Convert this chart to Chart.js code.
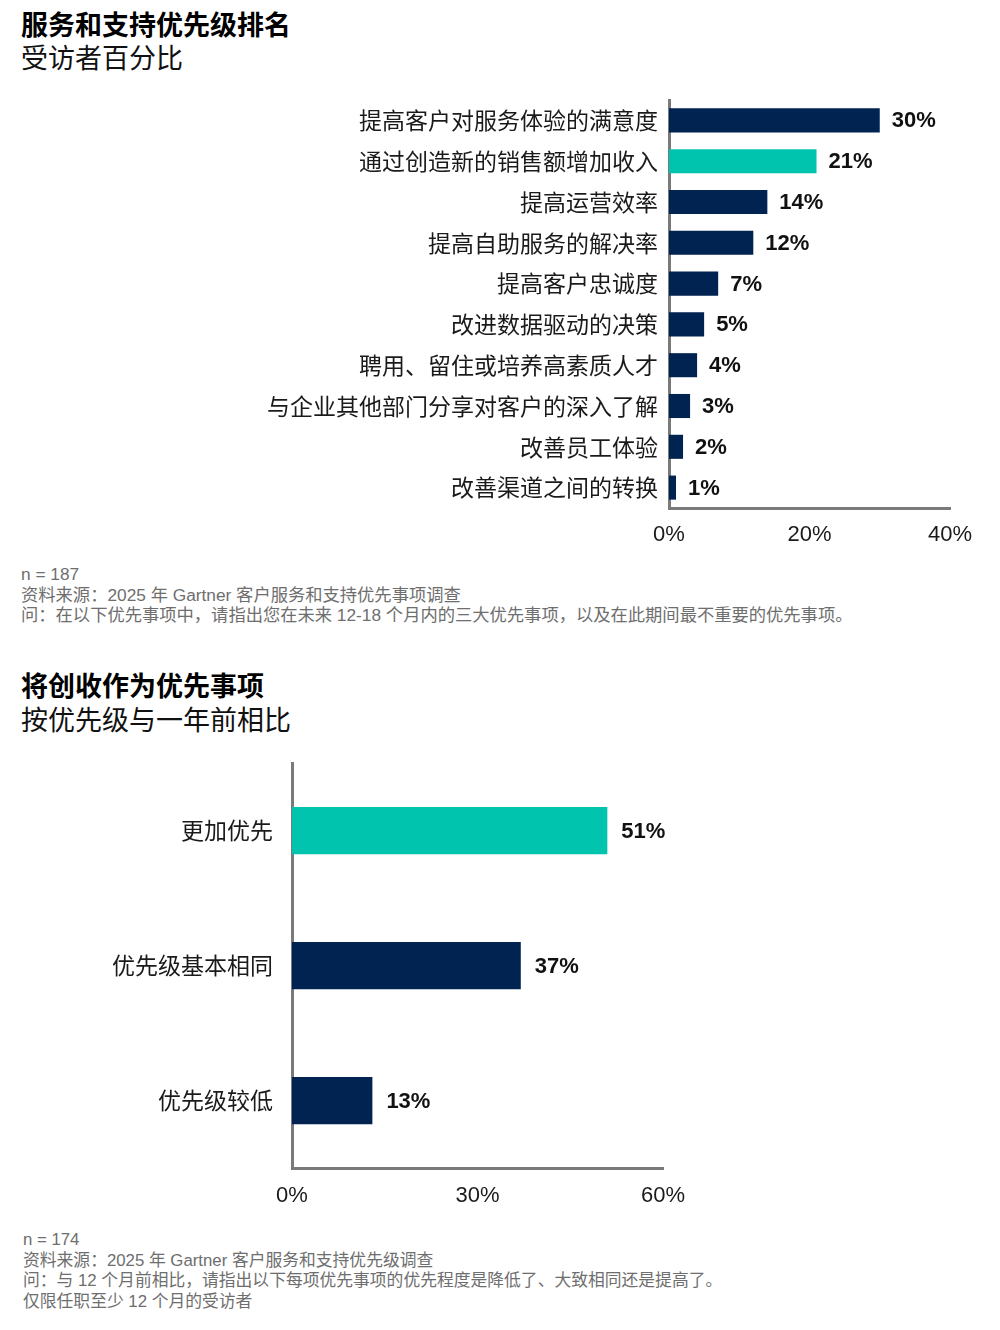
<!DOCTYPE html>
<html>
<head>
<meta charset="utf-8">
<script src="https://cdn.jsdelivr.net/npm/chart.js@4.4.1/dist/chart.umd.min.js"></script>
<style>
  html, body { margin: 0; padding: 0; background: #fff; }
  body { width: 1000px; height: 1330px; position: relative; overflow: hidden; font-family: "Noto Sans CJK SC", "Liberation Sans", sans-serif; }
  .t { position: absolute; white-space: nowrap; color: #000; }
  .title { font-size: 27px; font-weight: bold; line-height: 27px; }
  .sub { font-size: 27px; line-height: 27px; color: #111; }
  .note { font-family: "Liberation Sans", "Noto Sans CJK SC", sans-serif; line-height: 20.5px; color: #6e6e6e; }
  canvas { position: absolute; left: 0; }
</style>
</head>
<body>
<div class="t title" style="left:21px; top:10px;">服务和支持优先级排名</div>
<div class="t sub" style="left:21px; top:43px;">受访者百分比</div>
<canvas id="c1" width="1000" height="470" style="top:90px; width:1000px; height:470px;"></canvas>
<div class="t note" style="left:21px; top:564px; font-size:17.3px;">n = 187<br>资料来源：2025 年 Gartner 客户服务和支持优先事项调查<br>问：在以下优先事项中，请指出您在未来 12-18 个月内的三大优先事项，以及在此期间最不重要的优先事项。</div>

<div class="t title" style="left:21px; top:671px;">将创收作为优先事项</div>
<div class="t sub" style="left:21px; top:705px;">按优先级与一年前相比</div>
<canvas id="c2" width="1000" height="470" style="top:750px; width:1000px; height:470px;"></canvas>
<div class="t note" style="left:23px; top:1230px; font-size:16.8px;">n = 174<br>资料来源：2025 年 Gartner 客户服务和支持优先级调查<br>问：与 12 个月前相比，请指出以下每项优先事项的优先程度是降低了、大致相同还是提高了。<br>仅限任职至少 12 个月的受访者</div>

<script>
// ---- Data: chart 1 ----
const categories1 = [
  "提高客户对服务体验的满意度",
  "通过创造新的销售额增加收入",
  "提高运营效率",
  "提高自助服务的解决率",
  "提高客户忠诚度",
  "改进数据驱动的决策",
  "聘用、留住或培养高素质人才",
  "与企业其他部门分享对客户的深入了解",
  "改善员工体验",
  "改善渠道之间的转换"
];
const values1 = [30, 21, 14, 12, 7, 5, 4, 3, 2, 1];
const highlight1 = [false, true, false, false, false, false, false, false, false, false];
const ticks1 = [0, 20, 40];

// ---- Data: chart 2 ----
const categories2 = ["更加优先", "优先级基本相同", "优先级较低"];
const values2 = [51, 37, 13];
const highlight2 = [true, false, false];
const ticks2 = [0, 30, 60];

const NAVY = "#002352";
const TEAL = "#00c4ad";
const AXIS = "#7a7a7a";
const CJK = '"Noto Sans CJK SC", sans-serif';
const LAT = '"Liberation Sans", Arial, sans-serif';

const valueLabels = {
  id: "valueLabels",
  afterDatasetsDraw(chart, args, opts) {
    const ctx = chart.ctx;
    const meta = chart.getDatasetMeta(0);
    const data = chart.data.datasets[0].data;
    ctx.save();
    ctx.font = "bold 22px " + LAT;
    ctx.fillStyle = "#111";
    ctx.textAlign = "left";
    ctx.textBaseline = "middle";
    meta.data.forEach((bar, i) => {
      ctx.fillText(data[i] + "%", bar.x + opts.offset, bar.y + 1);
    });
    ctx.restore();
  }
};

function makeChart(id, cats, vals, hl, ticks, cfg) {
  return new Chart(document.getElementById(id), {
    type: "bar",
    data: {
      labels: cats,
      datasets: [{
        data: vals,
        backgroundColor: hl.map(h => h ? TEAL : NAVY),
        borderWidth: 0,
        categoryPercentage: 1,
        barPercentage: cfg.barPct
      }]
    },
    options: {
      indexAxis: "y",
      responsive: false,
      animation: false,
      devicePixelRatio: 1,
      layout: { padding: { top: cfg.padTop, right: cfg.padRight, left: 0, bottom: 0 } },
      plugins: { legend: { display: false }, tooltip: { enabled: false }, valueLabels: { offset: cfg.labelOffset } },
      scales: {
        x: {
          min: ticks[0], max: ticks[ticks.length - 1],
          afterBuildTicks: s => { s.ticks = ticks.map(v => ({ value: v })); },
          afterFit: s => { s.height = 52; s.paddingLeft = 0; s.paddingRight = 0; },
          grid: { display: false, drawTicks: false },
          border: { display: true, color: AXIS, width: 3 },
          ticks: { padding: cfg.xPad, color: "#1a1a1a", font: { family: LAT, size: 22 }, callback: v => v + "%", maxRotation: 0 }
        },
        y: {
          afterFit: s => { s.width = cfg.yWidth; s.paddingTop = 0; s.paddingBottom = 0; },
          grid: { display: false, drawTicks: false },
          border: { display: true, color: AXIS, width: 3 },
          ticks: { padding: cfg.yPad, color: "#1a1a1a", font: { family: CJK, size: 23 }, autoSkip: false }
        }
      }
    },
    plugins: [valueLabels]
  });
}

makeChart("c1", categories1, values1, highlight1, ticks1, {
  barPct: 0.59, padTop: 10, padRight: 50, yWidth: 669, yPad: 11, xPad: 14, labelOffset: 12
});
makeChart("c2", categories2, values2, highlight2, ticks2, {
  barPct: 0.35, padTop: 13, padRight: 337, yWidth: 292, yPad: 19, xPad: 15, labelOffset: 14
});
</script>
</body>
</html>
